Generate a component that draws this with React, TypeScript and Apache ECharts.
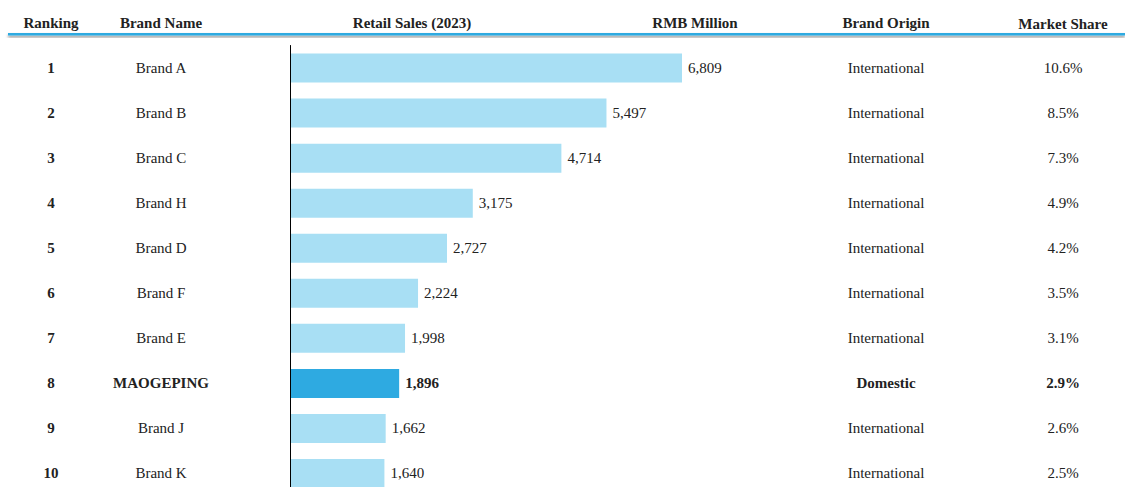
import React, { useEffect, useRef } from "react";
import * as echarts from "echarts";

const ranks = ["1", "2", "3", "4", "5", "6", "7", "8", "9", "10"];
const brands = ["Brand A", "Brand B", "Brand C", "Brand H", "Brand D", "Brand F", "Brand E", "MAOGEPING", "Brand J", "Brand K"];
const sales = [6809, 5497, 4714, 3175, 2727, 2224, 1998, 1896, 1662, 1640];
const origins = ["International", "International", "International", "International", "International", "International", "International", "Domestic", "International", "International"];
const shares = ["10.6%", "8.5%", "7.3%", "4.9%", "4.2%", "3.5%", "3.1%", "2.9%", "2.6%", "2.5%"];
const headers = ["Ranking", "Brand Name", "Retail Sales (2023)", "RMB Million", "Brand Origin", "Market Share"];
const highlightIndex = 7;

const FONT = "'Liberation Serif', 'Times New Roman', serif";
const LIGHT = "#a8dff4";
const DARK = "#2eaae1";
const TEXT = "#222";
const FS = 15;

export default function App() {
  const ref = useRef<HTMLDivElement>(null);
  useEffect(() => {
    if (!ref.current) return;
    const chart = echarts.init(ref.current, undefined, { renderer: "svg" });
    const gridLeft = 290;
    const xMax = 8000;
    const gridWidth = (392 / 6809) * xMax;
    const gridRightEdge = gridLeft + gridWidth;
    const rich = {
      n: { fontFamily: FONT, fontSize: FS, color: TEXT },
      b: { fontFamily: FONT, fontSize: FS, color: TEXT, fontWeight: "bold" },
    };
    const colAxis = (values: string[], position: "left" | "right", centerX: number, allBold: boolean) => ({
      type: "category",
      data: ranks,
      inverse: true,
      position,
      axisLine: { show: false },
      axisTick: { show: false },
      axisLabel: {
        margin: position === "left" ? gridLeft - centerX : centerX - gridRightEdge,
        align: "center",
        formatter: (_v: string, i: number) =>
          allBold || i === highlightIndex ? `{b|${values[i]}}` : `{n|${values[i]}}`,
        rich,
      },
    });
    const headerX = [51, 161, 412, 695, 886, 1063];
    chart.setOption({
      animation: false,
      textStyle: { fontFamily: FONT },
      grid: { left: gridLeft, top: 45.5, width: gridWidth, bottom: 0, containLabel: false },
      xAxis: { type: "value", min: 0, max: xMax, show: false },
      yAxis: [
        {
          type: "category",
          data: ranks,
          inverse: true,
          z: 10,
          axisLine: { show: true, lineStyle: { color: "#000", width: 1 } },
          axisTick: { show: false },
          axisLabel: { show: false },
        },
        colAxis(ranks, "left", 51, true),
        colAxis(brands, "left", 161, false),
        colAxis(origins, "right", 886, false),
        colAxis(shares, "right", 1063, false),
      ],
      series: [
        {
          type: "bar",
          yAxisIndex: 0,
          barWidth: 29,
          z: 2,
          data: sales.map((v, i) => ({
            value: v,
            itemStyle: { color: i === highlightIndex ? DARK : LIGHT },
            label: i === highlightIndex ? { fontWeight: "bold" } : {},
          })),
          label: {
            show: true,
            position: "right",
            distance: 6,
            fontFamily: FONT,
            fontSize: FS,
            color: TEXT,
            formatter: (p: any) => Number(p.value).toLocaleString("en-US"),
          },
        },
      ],
      graphic: [
        ...headers.map((h, i) => ({
          type: "text",
          x: headerX[i],
          y: i === 5 ? 24 : 23,
          style: {
            text: h,
            fontFamily: FONT,
            fontSize: FS,
            fontWeight: "bold",
            fill: TEXT,
            align: "center",
            verticalAlign: "middle",
          },
        })),
        {
          type: "rect",
          shape: { x: 8, y: 33, width: 1117, height: 2.5 },
          style: {
            fill: DARK,
            shadowColor: "rgba(0,0,0,0.45)",
            shadowBlur: 3,
            shadowOffsetY: 2,
          },
        },
      ],
    });
    return () => chart.dispose();
  }, []);
  return (
    <div
      ref={ref}
      style={{ position: "fixed", left: 0, top: 0, width: 1125, height: 495.5, background: "#fff" }}
    />
  );
}
